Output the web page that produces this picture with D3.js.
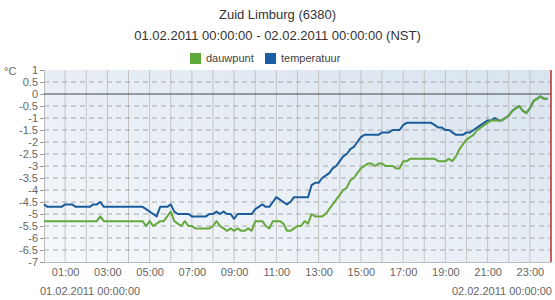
<!DOCTYPE html>
<html>
<head>
<meta charset="utf-8">
<title>Zuid Limburg (6380)</title>
<script src="https://cdnjs.cloudflare.com/ajax/libs/d3/7.8.5/d3.min.js"></script>
<style>
  body { margin: 0; background: #fff; }
  svg { display: block; font-family: "Liberation Sans", Arial, sans-serif; }
</style>
</head>
<body>
<div id="chart"></div>
<script>
// titels
var titel = "Zuid Limburg (6380)";
var subtitel = "01.02.2011 00:00:00 - 02.02.2011 00:00:00 (NST)";
var series = ["dauwpunt", "temperatuur"];
var kleuren = ["#66a83d", "#1a5c9c"];

// as-labels
var yTicks = [1, 0.5, 0, -0.5, -1, -1.5, -2, -2.5, -3, -3.5, -4, -4.5, -5, -5.5, -6, -6.5, -7];
var xTickLabels = ["01:00", "03:00", "05:00", "07:00", "09:00", "11:00",
                   "13:00", "15:00", "17:00", "19:00", "21:00", "23:00"];
var startLabel = "01.02.2011 00:00:00";
var eindLabel = "02.02.2011 00:00:00";

// metingen, elke 10 minuten vanaf 00:00
var temperatuur = [
  -4.6, -4.7, -4.7, -4.7, -4.7, -4.7, -4.6, -4.6, -4.6, -4.7, -4.7, -4.7,
  -4.7, -4.7, -4.6, -4.6, -4.5, -4.7, -4.7, -4.7, -4.7, -4.7, -4.7, -4.7,
  -4.7, -4.7, -4.7, -4.7, -4.7, -4.8, -4.9, -5.0, -5.1, -4.7, -4.7, -4.7,
  -4.6, -4.9, -5.0, -5.0, -5.0, -5.0, -5.1, -5.1, -5.1, -5.1, -5.1, -5.0,
  -5.0, -4.9, -5.0, -4.9, -5.0, -5.0, -5.2, -5.0, -5.0, -5.0, -5.0, -5.0,
  -4.8, -4.7, -4.6, -4.7, -4.7, -4.5, -4.3, -4.4, -4.5, -4.6, -4.5, -4.3,
  -4.3, -4.3, -4.3, -4.3, -3.8, -3.7, -3.7, -3.5, -3.4, -3.3, -3.1, -3.0,
  -2.8, -2.6, -2.5, -2.3, -2.2, -2.0, -1.8, -1.7, -1.7, -1.7, -1.7, -1.7,
  -1.6, -1.6, -1.6, -1.5, -1.5, -1.5, -1.3, -1.2, -1.2, -1.2, -1.2, -1.2,
  -1.2, -1.2, -1.2, -1.3, -1.4, -1.4, -1.5, -1.5, -1.6, -1.7, -1.7, -1.7,
  -1.6, -1.6, -1.5, -1.4, -1.3, -1.2, -1.1, -1.1, -1.0, -1.1, -1.1, -1.0,
  -0.9, -0.7, -0.6, -0.5, -0.7, -0.8, -0.6, -0.3, -0.2, -0.1, -0.2, -0.2
];
var dauwpunt = [
  -5.3, -5.3, -5.3, -5.3, -5.3, -5.3, -5.3, -5.3, -5.3, -5.3, -5.3, -5.3,
  -5.3, -5.3, -5.3, -5.3, -5.1, -5.3, -5.3, -5.3, -5.3, -5.3, -5.3, -5.3,
  -5.3, -5.3, -5.3, -5.3, -5.3, -5.5, -5.3, -5.5, -5.4, -5.3, -5.3, -5.1,
  -4.9, -5.3, -5.4, -5.5, -5.3, -5.5, -5.5, -5.6, -5.6, -5.6, -5.6, -5.6,
  -5.5, -5.3, -5.5, -5.6, -5.7, -5.6, -5.7, -5.6, -5.7, -5.7, -5.6, -5.7,
  -5.3, -5.3, -5.3, -5.5, -5.6, -5.3, -5.3, -5.3, -5.4, -5.7, -5.7, -5.6,
  -5.5, -5.5, -5.3, -5.4, -5.0, -5.1, -5.1, -5.1, -5.0, -4.8, -4.6, -4.4,
  -4.2, -4.0, -3.9, -3.6, -3.5, -3.3, -3.1, -3.0, -2.9, -2.9, -3.0, -2.9,
  -2.9, -3.0, -3.0, -3.0, -3.1, -3.1, -2.8, -2.8, -2.7, -2.7, -2.7, -2.7,
  -2.7, -2.7, -2.7, -2.7, -2.8, -2.8, -2.8, -2.7, -2.8, -2.6, -2.3, -2.1,
  -1.9, -1.8, -1.7, -1.5, -1.4, -1.3, -1.2, -1.1, -1.1, -1.1, -1.1, -1.0,
  -0.9, -0.7, -0.6, -0.5, -0.7, -0.8, -0.6, -0.3, -0.2, -0.1, -0.2, -0.2
];

var width = 555, height = 300;
var margin = { left: 44, right: 4, top: 70, bottom: 38 };

var start = new Date(2011, 1, 1, 0, 0, 0);
var eind = new Date(2011, 1, 2, 0, 0, 0);

var svg = d3.select("#chart").append("svg")
    .attr("width", width)
    .attr("height", height);

var x = d3.scaleTime()
    .domain([start, eind])
    .range([margin.left, width - margin.right]);

var y = d3.scaleLinear()
    .domain([-7, 1])
    .range([height - margin.bottom, margin.top]);

function tijd(i) { return d3.timeMinute.offset(start, i * 10); }

// achtergrond met verloop
var defs = svg.append("defs");
var grad = defs.append("linearGradient")
    .attr("id", "bg")
    .attr("x1", "1").attr("y1", "0")
    .attr("x2", "0").attr("y2", "1");
grad.append("stop").attr("offset", "0%").attr("stop-color", "#d9e4ef");
grad.append("stop").attr("offset", "100%").attr("stop-color", "#f5f8fb");

svg.append("rect")
    .attr("x", x(start))
    .attr("y", y(1))
    .attr("width", x(eind) - x(start))
    .attr("height", y(-7) - y(1))
    .attr("fill", "url(#bg)");

// verticale rasterlijnen per uur
var uren = d3.timeHour.range(d3.timeHour.offset(start, 1), eind);
svg.append("g").selectAll("line")
    .data(uren)
    .enter().append("line")
    .attr("x1", function(d) { return x(d); })
    .attr("x2", function(d) { return x(d); })
    .attr("y1", y(1))
    .attr("y2", y(-7))
    .attr("stroke", "#c4c4c4")
    .attr("stroke-width", 1);

// horizontale gestippelde lijnen
svg.append("g").selectAll("line")
    .data(yTicks.filter(function(d) { return d !== 0 && d !== -7 && d !== 1; }))
    .enter().append("line")
    .attr("x1", x(start))
    .attr("x2", x(eind))
    .attr("y1", function(d) { return y(d); })
    .attr("y2", function(d) { return y(d); })
    .attr("stroke", "#a8a8a8")
    .attr("stroke-width", 1)
    .attr("stroke-dasharray", "5,4");

// y-as
var yAxis = svg.append("g")
    .attr("transform", "translate(" + x(start) + ",0)")
    .call(d3.axisLeft(y).tickValues(yTicks).tickSize(4).tickPadding(2)
        .tickFormat(function(d) { return String(d); }));
yAxis.select(".domain").attr("stroke", "#bbb");
yAxis.selectAll(".tick line").attr("stroke", "#999");
yAxis.selectAll("text")
    .attr("fill", "#666")
    .style("font-size", "11px")
    .style("font-family", "Liberation Sans, Arial, sans-serif");

// x-as
var xTickDates = xTickLabels.map(function(l) {
    return d3.timeHour.offset(start, +l.slice(0, 2));
});
var xAxis = svg.append("g")
    .attr("transform", "translate(0," + y(-7) + ")")
    .call(d3.axisBottom(x).tickValues(xTickDates).tickSize(0).tickPadding(6)
        .tickFormat(function(d, i) { return xTickLabels[i]; }));
xAxis.select(".domain").attr("stroke", "#bbb");
xAxis.selectAll("text")
    .attr("fill", "#666")
    .style("font-size", "11px")
    .style("font-family", "Liberation Sans, Arial, sans-serif");

// nullijn
svg.append("line")
    .attr("x1", x(start)).attr("x2", x(eind))
    .attr("y1", y(0)).attr("y2", y(0))
    .attr("stroke", "#444")
    .attr("stroke-width", 1);

// lijnen
var lijn = d3.line()
    .x(function(d, i) { return x(tijd(i)); })
    .y(function(d) { return y(d); });

[temperatuur, dauwpunt].forEach(function(reeks, k) {
    svg.append("path")
        .datum(reeks)
        .attr("fill", "none")
        .attr("stroke", k === 0 ? kleuren[1] : kleuren[0])
        .attr("stroke-width", 2)
        .attr("stroke-linejoin", "round")
        .attr("d", lijn);
});

// rode lijn aan het einde
svg.append("line")
    .attr("x1", x(eind)).attr("x2", x(eind))
    .attr("y1", y(1)).attr("y2", y(-7))
    .attr("stroke", "#c0282d")
    .attr("stroke-width", 1.5);

// titels
svg.append("text")
    .attr("x", width / 2).attr("y", 19)
    .attr("text-anchor", "middle")
    .attr("fill", "#333")
    .style("font-size", "13px")
    .text(titel);

svg.append("text")
    .attr("x", width / 2).attr("y", 40)
    .attr("text-anchor", "middle")
    .attr("fill", "#333")
    .style("font-size", "13px")
    .text(subtitel);

// legenda
var legX = [190, 265];
series.forEach(function(s, i) {
    svg.append("rect")
        .attr("x", legX[i]).attr("y", 53)
        .attr("width", 11).attr("height", 11)
        .attr("fill", i === 0 ? "#5fa83a" : "#1a5ea6");
    svg.append("text")
        .attr("x", legX[i] + 16).attr("y", 62)
        .attr("fill", "#444")
        .style("font-size", "11px")
        .text(s);
});

// eenheid
svg.append("text")
    .attr("x", 4).attr("y", 75)
    .attr("fill", "#666")
    .style("font-size", "11px")
    .text("°C");

// datumlabels
svg.append("text")
    .attr("x", 40).attr("y", 295)
    .attr("fill", "#666")
    .style("font-size", "11px")
    .text(startLabel);

svg.append("text")
    .attr("x", 552).attr("y", 295)
    .attr("text-anchor", "end")
    .attr("fill", "#666")
    .style("font-size", "11px")
    .text(eindLabel);
</script>
</body>
</html>
